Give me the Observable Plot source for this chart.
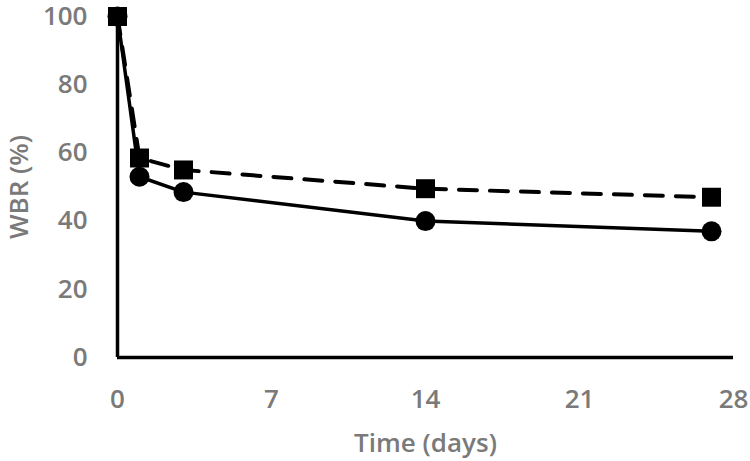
<!DOCTYPE html>
<html>
<head>
<meta charset="utf-8">
<script src="https://cdn.jsdelivr.net/npm/d3@7"></script>
<script src="https://cdn.jsdelivr.net/npm/@observablehq/plot@0.6"></script>
<style>
  html, body { margin: 0; padding: 0; background: #fff; }
</style>
</head>
<body>
<div id="chart"></div>
<script>
// Time points (days)
const days = [0, 1, 3, 14, 27];
// Series with circle markers (solid line)
const circleSeries = [100, 53, 48.5, 40, 37];
// Series with square markers (dashed line)
const squareSeries = [100, 58.5, 55, 49.5, 47];
// Axis ticks and titles
const xTicks = [0, 7, 14, 21, 28];
const yTicks = [0, 20, 40, 60, 80, 100];
const xTitle = "Time (days)";
const yTitle = "WBR (%)";

const circleData = days.map((d, i) => ({day: d, value: circleSeries[i]}));
const squareData = days.map((d, i) => ({day: d, value: squareSeries[i]}));

const chart = Plot.plot({
  width: 750,
  height: 461,
  marginLeft: 117,
  marginRight: 17,
  marginTop: 16,
  marginBottom: 104,
  style: {
    fontFamily: "'Open Sans', sans-serif",
    fontSize: "26px",
    fontWeight: 600,
    color: "#7a7a7a",
    background: "#fff",
    overflow: "visible"
  },
  x: {domain: [0, 28], ticks: xTicks, tickSize: 0, tickPadding: 32, label: null},
  y: {domain: [0, 100], ticks: yTicks, tickSize: 0, tickPadding: 30, label: null},
  marks: [
    Plot.ruleX([0], {stroke: "#000", strokeWidth: 3.5}),
    Plot.ruleY([0], {stroke: "#000", strokeWidth: 3.5}),
    Plot.line(squareData, {x: "day", y: "value", stroke: "#000", strokeWidth: 4, strokeDasharray: "18,13"}),
    Plot.line(circleData, {x: "day", y: "value", stroke: "#000", strokeWidth: 3.5}),
    Plot.dot(squareData, {x: "day", y: "value", symbol: "square", r: 10.7, fill: "#000", stroke: "none"}),
    Plot.dot(circleData, {x: "day", y: "value", symbol: "circle", r: 10, fill: "#000", stroke: "none"}),
    Plot.text([xTitle], {text: d => d, frameAnchor: "bottom", textAnchor: "middle", lineAnchor: "middle", dy: 86, fontSize: 26, fontWeight: 600, fill: "#7a7a7a"}),
    Plot.text([yTitle], {text: d => d, frameAnchor: "left", textAnchor: "middle", lineAnchor: "middle", dx: -98, rotate: -90, fontSize: 26, fontWeight: 600, fill: "#7a7a7a"})
  ]
});
document.getElementById("chart").appendChild(chart);
</script>
</body>
</html>
